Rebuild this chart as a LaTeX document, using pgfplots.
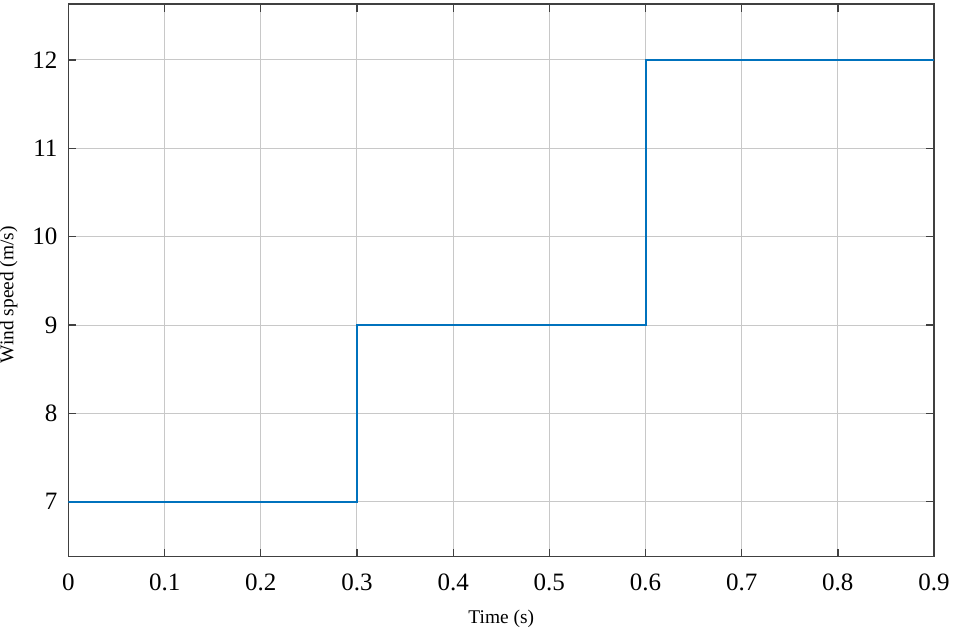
\documentclass[border=0pt]{standalone}
\usepackage{fontspec}
\setmainfont{Liberation Serif}
\usepackage{pgfplots}
\pgfplotsset{compat=1.18}
\definecolor{mblue}{RGB}{0,114,189}
\definecolor{axgray}{RGB}{64,64,64}
\definecolor{grd}{RGB}{200,200,200}
\begin{document}
\begin{tikzpicture}
\begin{axis}[
  scale only axis, width=433pt, height=276.5pt,
  xmin=0, xmax=0.9, ymin=6.378, ymax=12.633,
  xtick={0,0.1,...,0.9}, ytick={7,8,...,12},
  xticklabels={0,0.1,0.2,0.3,0.4,0.5,0.6,0.7,0.8,0.9},
  /pgf/number format/assume math mode=true,
  tick label style={font=\fontsize{12.5}{14}\selectfont, text=black},
  label style={font=\fontsize{9.7}{12}\selectfont},
  xlabel={Time (s)}, ylabel={Wind speed (m/s)},
  xlabel style={at={(axis description cs:0.5,0)}, anchor=north, yshift=-23pt},
  ylabel style={at={(axis description cs:-0.0583,0.474)}, anchor=south, inner sep=0pt},
  xticklabel style={yshift=-5pt}, yticklabel style={xshift=-2pt},
  axis line style={axgray, line width=0.65pt},
  major tick style={axgray, line width=0.65pt},
  tick align=inside, major tick length=4pt,
  grid=major, major grid style={grd, line width=0.5pt},
  axis background/.style={fill=white},
]
\addplot[mblue, line width=1pt, const plot] coordinates {
  (0,7) (0.3,9) (0.6,12) (0.9,12)
};
\end{axis}
\pgfresetboundingbox
\path (current axis.south west) ++(-34.25pt,-40pt) coordinate (bl);
\path (current axis.north east) ++(10.5pt,2pt) coordinate (tr);
\useasboundingbox (bl) rectangle (tr);
\end{tikzpicture}
\end{document}
